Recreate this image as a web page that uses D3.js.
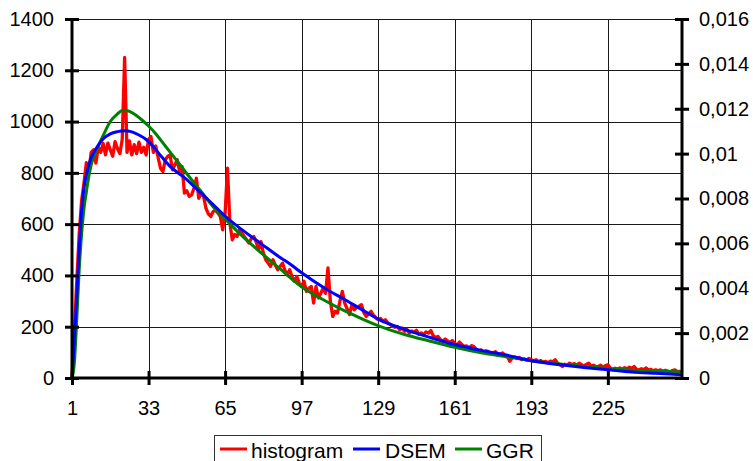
<!DOCTYPE html>
<html><head><meta charset="utf-8">
<script src="https://cdn.jsdelivr.net/npm/d3@7"></script>
<style>
body{margin:0;background:#fff}
svg{display:block}
text{font-family:"Liberation Sans",Arial,sans-serif;fill:#000}
</style>
</head><body>
<svg id="c" width="753" height="461"></svg>
<script>
// ---------- DATA ----------
const categories = d3.range(1, 257);
const histogram = [
 5,180,380,560,690,760,840,800,880,890,
 838,900,880,915,870,916,890,865,922,895,
 875,930,1250,880,925,870,910,875,920,880,
 900,870,930,942,880,905,860,818,805,851,
 864,870,812,831,851,805,825,721,730,708,
 714,740,779,701,720,708,662,640,630,649,
 655,643,630,578,643,818,604,539,560,552,
 578,565,552,539,526,545,552,530,500,532,
 487,461,448,435,461,440,422,435,448,420,
 403,422,395,377,396,370,357,377,338,350,
 357,292,357,312,330,351,330,429,300,240,
 260,253,300,338,292,270,247,286,266,275,
 280,286,255,240,250,260,245,235,227,232,
 220,227,215,210,201,198,201,188,195,182,
 190,175,183,178,186,170,176,168,180,175,
 185,165,158,162,150,143,152,145,138,146,
 135,128,140,130,123,125,118,126,123,112,
 104,110,100,106,104,98,97,103,94,92,
 98,88,84,65,78,82,76,80,71,74,
 70,76,71,66,71,64,68,62,65,60,
 66,63,71,58,52,45,54,50,58,52,
 56,49,58,52,47,53,58,46,50,44,
 45,50,42,48,52,40,32,38,35,39,
 34,40,36,42,38,45,34,31,36,33,
 39,30,34,28,32,27,32,26,30,27,
 24,29,32,25,26,22
];
// DSEM and GGR density curves (right axis), read at sample categories
const dsemCat = [1,2,3,4,5,6,7,8,9,10,12,14,17,20,23,26,29,32,35,38,42,48,54,60,65,72,80,88,92,97,107,115,122,130,140,150,161,172,183,193,205,215,225,235,245,256];
const dsemVal = [0,0.00171,0.00366,0.00571,0.00743,0.00846,0.00905,0.00949,0.00981,0.01003,0.01038,0.01065,0.01088,0.01098,0.01102,0.01097,0.01083,0.01063,0.01031,0.00992,0.00943,0.00893,0.00834,0.00773,0.00722,0.00661,0.00599,0.00537,0.00509,0.00469,0.00398,0.00350,0.00306,0.00257,0.00217,0.00183,0.00149,0.00123,0.00101,0.00077,0.00059,0.00047,0.00037,0.00027,0.00021,0.00015];
const ggrCat = [1,2,3,4,5,6,7,8,9,10,12,14,17,20,22,24,27,30,33,36,40,45,50,55,60,65,72,78,88,97,107,115,122,130,140,150,161,172,183,193,205,215,225,235,245,256];
const ggrVal = [0,0.00069,0.00263,0.00480,0.00640,0.00754,0.00829,0.00897,0.00949,0.00985,0.01034,0.01080,0.01143,0.01177,0.01192,0.01191,0.01177,0.01152,0.01123,0.01089,0.01034,0.00966,0.00897,0.00831,0.00763,0.00709,0.00634,0.00577,0.00486,0.00406,0.00343,0.00299,0.00265,0.00229,0.00194,0.00166,0.00137,0.00112,0.00094,0.00077,0.00062,0.00051,0.00042,0.00035,0.00031,0.00026];
const xTicks = [1,33,65,97,129,161,193,225];
const leftTicks = [0,200,400,600,800,1000,1200,1400];
const rightTicks = [0,0.002,0.004,0.006,0.008,0.01,0.012,0.014,0.016];
const rightTickLabels = ["0","0,002","0,004","0,006","0,008","0,01","0,012","0,014","0,016"];
const legendItems = [
  {name:"histogram", color:"#FF0000"},
  {name:"DSEM", color:"#0000FF"},
  {name:"GGR", color:"#008000"}
];

// ---------- LAYOUT ----------
const L = 72, R = 682, T = 19, B = 378;
const FONT = '"Liberation Sans",Arial,sans-serif';
const svg = d3.select("#c");
const x = d3.scaleLinear().domain([1, 256]).range([L, R]);
const yL = d3.scaleLinear().domain([0, 1400]).range([B, T]);
const yR = d3.scaleLinear().domain([0, 0.016]).range([B, T]);

// gridlines
const grid = svg.append("g").attr("stroke", "#1a1a1a").attr("stroke-width", 1).attr("shape-rendering", "crispEdges");
grid.selectAll("line.h").data(leftTicks.filter(d => d > 0)).join("line")
  .attr("x1", L).attr("x2", R).attr("y1", d => Math.round(yL(d)) + 0.5).attr("y2", d => Math.round(yL(d)) + 0.5);
grid.selectAll("line.v").data(xTicks.filter(d => d > 1)).join("line")
  .attr("x1", d => Math.round(x(d)) + 0.5).attr("x2", d => Math.round(x(d)) + 0.5).attr("y1", T).attr("y2", B);

// series
const plot = svg.append("g");
plot.append("path").datum(categories.map((c, i) => [c, histogram[i]]))
  .attr("fill", "none").attr("stroke", "#FF0000").attr("stroke-width", 3.3).attr("stroke-linejoin", "round")
  .attr("d", d3.line().x(d => x(d[0])).y(d => yL(d[1])));
plot.append("path").datum(ggrCat.map((c, i) => [c, ggrVal[i]]))
  .attr("fill", "none").attr("stroke", "#008000").attr("stroke-width", 3)
  .attr("d", d3.line().curve(d3.curveMonotoneX).x(d => x(d[0])).y(d => yR(d[1])));
plot.append("path").datum(dsemCat.map((c, i) => [c, dsemVal[i]]))
  .attr("fill", "none").attr("stroke", "#0000FF").attr("stroke-width", 3)
  .attr("d", d3.line().curve(d3.curveMonotoneX).x(d => x(d[0])).y(d => yR(d[1])));

// axes
const axL = svg.append("g").attr("transform", `translate(${L},0)`)
  .call(d3.axisLeft(yL).tickValues(leftTicks).tickFormat(d3.format("d")).tickSize(7).tickPadding(11));
const axR = svg.append("g").attr("transform", `translate(${R},0)`)
  .call(d3.axisRight(yR).tickValues(rightTicks).tickFormat((d, i) => rightTickLabels[i]).tickSize(7).tickPadding(10));
const axB = svg.append("g").attr("transform", `translate(0,${B})`)
  .call(d3.axisBottom(x).tickValues(xTicks).tickFormat(d3.format("d")).tickSize(7).tickPadding(16));

[axL, axR, axB].forEach(a => {
  a.attr("font-family", FONT).attr("font-size", 20);
  a.select(".domain").attr("stroke", "#000").attr("stroke-width", 3);
  a.selectAll(".tick line").attr("stroke", "#000").attr("stroke-width", 3);
  a.selectAll(".tick text").attr("font-size", 20).attr("font-family", FONT).attr("fill", "#000");
});
// ticks cross the axis
axL.selectAll(".tick line").attr("x1", 7).attr("x2", -7);
axR.selectAll(".tick line").attr("x1", -7).attr("x2", 7);
axB.selectAll(".tick line").attr("y1", -7).attr("y2", 7);
axL.select(".domain").attr("d", `M0,${T}V${B}`);
axR.select(".domain").attr("d", `M0,${T}V${B}`);
axB.select(".domain").attr("d", `M${L},0H${R}`);

// legend
const lg = svg.append("g");
lg.append("rect").attr("x", 214.5).attr("y", 435.5).attr("width", 327).attr("height", 40)
  .attr("fill", "#fff").attr("stroke", "#333").attr("stroke-width", 1);
const lx = [220, 353, 455];
const tx = [251, 385, 486];
legendItems.forEach((it, i) => {
  lg.append("line").attr("x1", lx[i]).attr("x2", lx[i] + 27).attr("y1", 449).attr("y2", 449)
    .attr("stroke", it.color).attr("stroke-width", 3);
  lg.append("text").attr("x", tx[i]).attr("y", 457.5).attr("font-size", 21).attr("font-family", FONT).text(it.name);
});
</script>
</body></html>
